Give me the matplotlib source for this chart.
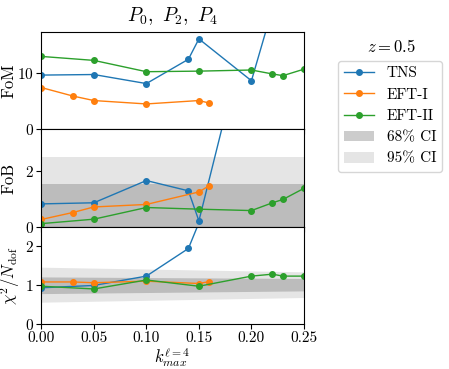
import matplotlib
matplotlib.use("Agg")
import matplotlib.pyplot as plt

plt.rcParams['font.family'] = 'serif'
plt.rcParams['font.serif'] = ['cmr10']
plt.rcParams['mathtext.fontset'] = 'cm'
plt.rcParams['axes.formatter.use_mathtext'] = True

# k_max values for each model
k_tns = [0.0, 0.05, 0.10, 0.14, 0.15, 0.20, 0.25]
k_eft1 = [0.0, 0.03, 0.05, 0.10, 0.15, 0.16]
k_eft2 = [0.0, 0.05, 0.10, 0.15, 0.20, 0.22, 0.23, 0.25]

# figure of merit
fom_tns = [9.6, 9.7, 8.1, 12.4, 16.0, 8.6, 40.5]
fom_eft1 = [7.4, 5.9, 5.1, 4.5, 5.1, 4.65]
fom_eft2 = [12.9, 12.2, 10.2, 10.3, 10.5, 9.8, 9.5, 10.65]

# figure of bias
fob_tns = [0.82, 0.86, 1.66, 1.29, 0.21, 7.8, 12.0]
fob_eft1 = [0.26, 0.51, 0.71, 0.80, 1.25, 1.48]
fob_eft2 = [0.11, 0.27, 0.69, 0.63, 0.58, 0.86, 0.98, 1.38]

# reduced chi2
chi2_tns = [0.93, 0.99, 1.23, 1.94, 2.6, 6.0, 10.0]
chi2_eft1 = [1.08, 1.08, 1.06, 1.10, 1.04, 1.09]
chi2_eft2 = [0.97, 0.90, 1.13, 0.97, 1.23, 1.28, 1.23, 1.23]

# confidence regions
fob_68 = 1.52
fob_95 = 2.49
k_band = [0.0, 0.25]
chi2_68_lo = [0.78, 0.85]
chi2_68_hi = [1.21, 1.17]
chi2_95_lo = [0.56, 0.68]
chi2_95_hi = [1.46, 1.34]

c_tns, c_eft1, c_eft2 = 'C0', 'C1', 'C2'
lkw = dict(marker='o', markersize=4, linewidth=1)

fig, axes = plt.subplots(3, 1, sharex=True, figsize=(4.49, 3.69), dpi=100)
fig.subplots_adjust(left=0.092, right=0.677, top=0.913, bottom=0.122, hspace=0)
ax1, ax2, ax3 = axes

ax1.plot(k_tns, fom_tns, color=c_tns, label='TNS', **lkw)
ax1.plot(k_eft1, fom_eft1, color=c_eft1, label='EFT-I', **lkw)
ax1.plot(k_eft2, fom_eft2, color=c_eft2, label='EFT-II', **lkw)
ax1.set_ylim(0, 17.2)
ax1.set_yticks([0, 10])
ax1.set_ylabel('FoM', fontsize=12)
ax1.set_title(r'$P_0,\ P_2,\ P_4$', fontsize=14, pad=8)

ax2.axhspan(0, fob_95, color='gray', alpha=0.2, lw=0)
ax2.axhspan(0, fob_68, color='gray', alpha=0.4, lw=0)
ax2.plot(k_tns, fob_tns, color=c_tns, **lkw)
ax2.plot(k_eft1, fob_eft1, color=c_eft1, **lkw)
ax2.plot(k_eft2, fob_eft2, color=c_eft2, **lkw)
ax2.set_ylim(0, 3.5)
ax2.set_yticks([0, 2])
ax2.set_ylabel('FoB', fontsize=12)

ax3.fill_between(k_band, chi2_68_lo, chi2_68_hi, color='gray', alpha=0.4, lw=0, label='68% CI')
ax3.fill_between(k_band, chi2_95_lo, chi2_95_hi, color='gray', alpha=0.2, lw=0, label='95% CI')
ax3.plot(k_tns, chi2_tns, color=c_tns, **lkw)
ax3.plot(k_eft1, chi2_eft1, color=c_eft1, **lkw)
ax3.plot(k_eft2, chi2_eft2, color=c_eft2, **lkw)
ax3.set_ylim(0, 2.5)
ax3.set_yticks([0, 1, 2])
ax3.set_ylabel(r'$\chi^2/N_{\rm dof}$', fontsize=12)
ax3.set_xlim(0, 0.25)
ax3.set_xticks([0, 0.05, 0.10, 0.15, 0.20, 0.25])
ax3.set_xticklabels(['0.00', '0.05', '0.10', '0.15', '0.20', '0.25'])
ax3.set_xlabel(r'$k_{max}^{\ell=4}$', fontsize=12)

for ax in axes:
    ax.tick_params(labelsize=11, pad=2)
ax1.yaxis.set_label_coords(-0.095, 0.5)
ax2.yaxis.set_label_coords(-0.095, 0.5)
ax3.yaxis.set_label_coords(-0.075, 0.5)
ax3.xaxis.set_label_coords(0.5, -0.22)

handles = ax1.get_legend_handles_labels()[0] + ax3.get_legend_handles_labels()[0]
labels = ['TNS', 'EFT-I', 'EFT-II', '68% CI', '95% CI']
fig.legend(handles, labels, loc='upper left', bbox_to_anchor=(0.752, 0.836),
           fontsize=11, borderaxespad=0)
fig.text(0.871, 0.873, r'$z = 0.5$', ha='center', va='center', fontsize=12)

fig.savefig('out.png', dpi=100)
